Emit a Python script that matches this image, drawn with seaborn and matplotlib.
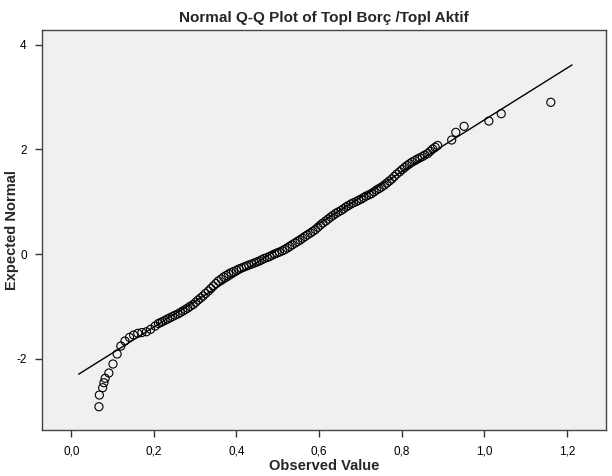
import matplotlib
matplotlib.use("Agg")
import numpy as np
import pandas as pd
import matplotlib.pyplot as plt
from matplotlib.ticker import FuncFormatter, FixedLocator
import seaborn as sns

observed = [
    0.067, 0.068, 0.076, 0.079, 0.082, 0.091, 0.101, 0.111, 0.120, 0.130,
    0.141, 0.151, 0.161, 0.171, 0.182, 0.192, 0.203,
    0.211, 0.216, 0.221, 0.227, 0.233, 0.239, 0.245, 0.251, 0.258, 0.264,
    0.270, 0.276, 0.282, 0.288, 0.295, 0.301, 0.307, 0.313, 0.319, 0.325,
    0.332, 0.338, 0.344, 0.350, 0.356, 0.363, 0.369, 0.375, 0.381, 0.387,
    0.393, 0.400, 0.406, 0.412, 0.418, 0.424, 0.430, 0.437, 0.443, 0.449,
    0.455, 0.461, 0.467, 0.474, 0.480, 0.486, 0.492, 0.498, 0.504, 0.511,
    0.517, 0.523, 0.529, 0.535, 0.542, 0.548, 0.554, 0.560, 0.566, 0.572,
    0.579, 0.585, 0.591, 0.597, 0.603, 0.609, 0.616, 0.622, 0.628, 0.634,
    0.640, 0.646, 0.653, 0.659, 0.665, 0.671, 0.677, 0.683, 0.690, 0.696,
    0.702, 0.708, 0.714, 0.721, 0.727, 0.733, 0.739, 0.745, 0.751, 0.758,
    0.764, 0.770, 0.776, 0.782, 0.788, 0.795, 0.801, 0.807, 0.813, 0.819,
    0.825, 0.832, 0.838, 0.844, 0.850, 0.856, 0.863, 0.869, 0.875, 0.881,
    0.887, 0.921, 0.931, 0.951, 1.011, 1.041, 1.161,
]
expected = [
    -2.920, -2.696, -2.556, -2.461, -2.377, -2.275, -2.103, -1.912, -1.759, -1.663,
    -1.593, -1.549, -1.516, -1.501, -1.486, -1.440, -1.377,
    -1.329, -1.310, -1.291, -1.267, -1.243, -1.219, -1.195, -1.171, -1.147, -1.118,
    -1.090, -1.061, -1.033, -0.999, -0.966, -0.923, -0.880, -0.841, -0.803, -0.755,
    -0.707, -0.660, -0.612, -0.564, -0.516, -0.478, -0.440, -0.411, -0.382, -0.358,
    -0.335, -0.311, -0.287, -0.268, -0.249, -0.229, -0.210, -0.191, -0.172, -0.153,
    -0.134, -0.110, -0.086, -0.067, -0.048, -0.024, 0.000, 0.019, 0.038, 0.062,
    0.086, 0.114, 0.143, 0.176, 0.210, 0.239, 0.268, 0.301, 0.335, 0.368,
    0.402, 0.435, 0.468, 0.511, 0.554, 0.592, 0.631, 0.669, 0.707, 0.740,
    0.774, 0.803, 0.832, 0.865, 0.899, 0.927, 0.956, 0.980, 1.004, 1.028,
    1.052, 1.080, 1.109, 1.133, 1.157, 1.190, 1.224, 1.252, 1.281, 1.319,
    1.358, 1.396, 1.434, 1.482, 1.530, 1.573, 1.616, 1.654, 1.692, 1.725,
    1.759, 1.787, 1.816, 1.840, 1.864, 1.893, 1.922, 1.965, 2.008, 2.041,
    2.075, 2.180, 2.327, 2.442, 2.543, 2.683, 2.901,
]

# reference normal line: mean and sd of the variable
ref_mean = 0.482
ref_sd = 0.202

x_ticks = [0.0, 0.2, 0.4, 0.6, 0.8, 1.0, 1.2]
y_ticks = [-2, 0, 2, 4]

title = "Normal Q-Q Plot of Topl Borç /Topl Aktif"
x_label = "Observed Value"
y_label = "Expected Normal"


def main():
    sns.set_theme(style="ticks")
    plt.rcParams["font.family"] = ["Liberation Sans", "DejaVu Sans"]

    df = pd.DataFrame({"observed": observed, "expected": expected})

    fig = plt.figure(figsize=(6.12, 4.76), dpi=100)
    ax = fig.add_axes([0.0686, 0.0966, 0.9216, 0.8403])
    ax.set_facecolor("#f0f0f0")

    # reference line over the data range, extended a little each side
    span = df["observed"].max() - df["observed"].min()
    lx = np.array([df["observed"].min() - 0.045 * span, df["observed"].max() + 0.047 * span])
    line_df = pd.DataFrame({"x": lx, "y": (lx - ref_mean) / ref_sd})
    sns.lineplot(data=line_df, x="x", y="y", color="black", linewidth=1.0, ax=ax)

    sns.scatterplot(data=df, x="observed", y="expected", marker="o", s=34,
                    facecolor="none", edgecolor="black", linewidth=0.8, ax=ax)

    ax.set_xlim(-0.0709, 1.2946)
    ax.set_ylim(-3.365, 4.283)
    ax.xaxis.set_major_locator(FixedLocator(x_ticks))
    ax.yaxis.set_major_locator(FixedLocator(y_ticks))
    ax.xaxis.set_major_formatter(FuncFormatter(lambda v, p: f"{v:.1f}".replace(".", ",")))
    ax.yaxis.set_major_formatter(FuncFormatter(lambda v, p: f"{v:.0f}".replace("\u2212", "-")))
    ax.tick_params(axis="both", direction="out", length=5, width=1, color="#333333",
                   labelsize=8.5, labelcolor="black", pad=6)

    for s in ax.spines.values():
        s.set_visible(True)
        s.set_color("#444444")
        s.set_linewidth(1.0)

    ax.set_xlabel(x_label, fontsize=10.5, fontweight="bold", va="center")
    ax.set_ylabel(y_label, fontsize=10.5, fontweight="bold", va="center")
    ax.xaxis.set_label_coords(0.5, -0.09)
    ax.yaxis.set_label_coords(-0.053, 0.5)
    ax.set_title(title, fontsize=11, fontweight="bold", pad=6)

    fig.savefig("out.png", dpi=100)


if __name__ == "__main__":
    main()
